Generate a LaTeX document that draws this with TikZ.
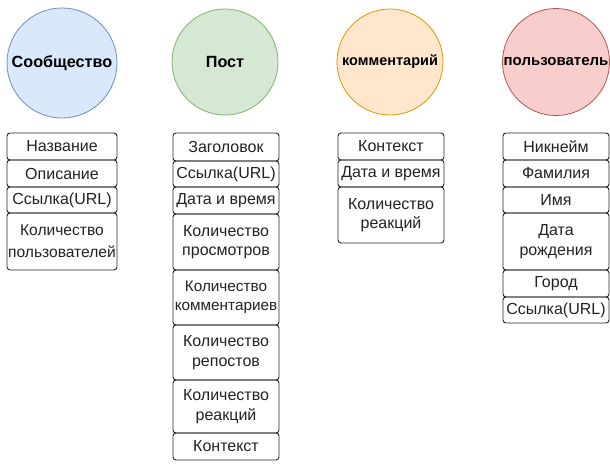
\documentclass[tikz,border=0pt]{standalone}
\usepackage{fontspec}
\setmainfont{Liberation Sans}
\definecolor{blueF}{HTML}{DAE8FC}\definecolor{blueS}{HTML}{6C8EBF}
\definecolor{greenF}{HTML}{D5E8D4}\definecolor{greenS}{HTML}{82B366}
\definecolor{orangeF}{HTML}{FFE6CC}\definecolor{orangeS}{HTML}{D79B00}
\definecolor{redF}{HTML}{F8CECC}\definecolor{redS}{HTML}{B85450}
\definecolor{txt}{HTML}{222222}
\tikzset{
  ent/.style={circle, line width=0.8pt, minimum size=#1, inner sep=0pt, font=\fontsize{16.2}{18}\selectfont\bfseries, text=black},
  fld/.style={draw=black!85, rounded corners=3pt, line width=0.9pt, inner sep=0pt, align=center,
    font=\fontsize{16}{19.5}\selectfont, text=txt},
}
\begin{document}
\begin{tikzpicture}[x=1pt,y=-1pt]
\useasboundingbox (0,0) rectangle (610,463);
% entities
\node[ent=110pt, draw=blueS, fill=blueF] (c1) at (62,63) {Сообщество};
\node[ent=106pt, draw=greenS, fill=greenF] (c2) at (225,62) {Пост};
\node[ent=106pt, draw=orangeS, fill=orangeF, font=\fontsize{14.5}{17}\selectfont\bfseries] (c3) at (390,62) {комментарий};
\node[ent=107pt, draw=redS, fill=redF, font=\fontsize{15}{17}\selectfont\bfseries] (c4) at (556,62) {пользователь};
% column 1
\node[fld, minimum width=110pt, minimum height=27pt] (a1) at (62,146.5) {Название};
\node[fld, minimum width=110pt, minimum height=27pt] (a2) at (62,173.5) {Описание};
\node[fld, minimum width=110pt, minimum height=26pt] (a3) at (62,200) {Ссылка(URL)};
\node[fld, minimum width=110pt, minimum height=57pt, font=\fontsize{15.6}{22}\selectfont] (a4) at (62,241.5) {Количество\\пользователей};
% column 2
\node[fld, minimum width=106pt, minimum height=28pt] (b1) at (226,147) {Заголовок};
\node[fld, minimum width=106pt, minimum height=26pt] (b2) at (226,174) {Ссылка(URL)};
\node[fld, minimum width=106pt, minimum height=27pt] (b3) at (226,200.5) {Дата и время};
\node[fld, minimum width=106pt, minimum height=56pt] (b4) at (226,242) {Количество\\просмотров};
\node[fld, minimum width=106pt, minimum height=55pt, font=\fontsize{15.3}{19.5}\selectfont] (b5) at (226,297.5) {Количество\\комментариев};
\node[fld, minimum width=106pt, minimum height=55pt] (b6) at (226,352.5) {Количество\\репостов};
\node[fld, minimum width=106pt, minimum height=53pt] (b7) at (226,406.5) {Количество\\реакций};
\node[fld, minimum width=106pt, minimum height=27pt] (b8) at (226,446.5) {Контекст};
% column 3
\node[fld, minimum width=106pt, minimum height=27pt] (d1) at (391,146.5) {Контекст};
\node[fld, minimum width=106pt, minimum height=27pt] (d2) at (391,173.5) {Дата и время};
\node[fld, minimum width=106pt, minimum height=56pt] (d3) at (391,215) {Количество\\реакций};
% column 4
\node[fld, minimum width=106pt, minimum height=27pt] (e1) at (556,146.5) {Никнейм};
\node[fld, minimum width=106pt, minimum height=27pt] (e2) at (556,173.5) {Фамилия};
\node[fld, minimum width=106pt, minimum height=26pt] (e3) at (556,200) {Имя};
\node[fld, minimum width=106pt, minimum height=57pt] (e4) at (556,241.5) {Дата\\рождения};
\node[fld, minimum width=106pt, minimum height=27pt] (e5) at (556,283.5) {Город};
\node[fld, minimum width=106pt, minimum height=26pt] (e6) at (556,310) {Ссылка(URL)};
\end{tikzpicture}
\end{document}
